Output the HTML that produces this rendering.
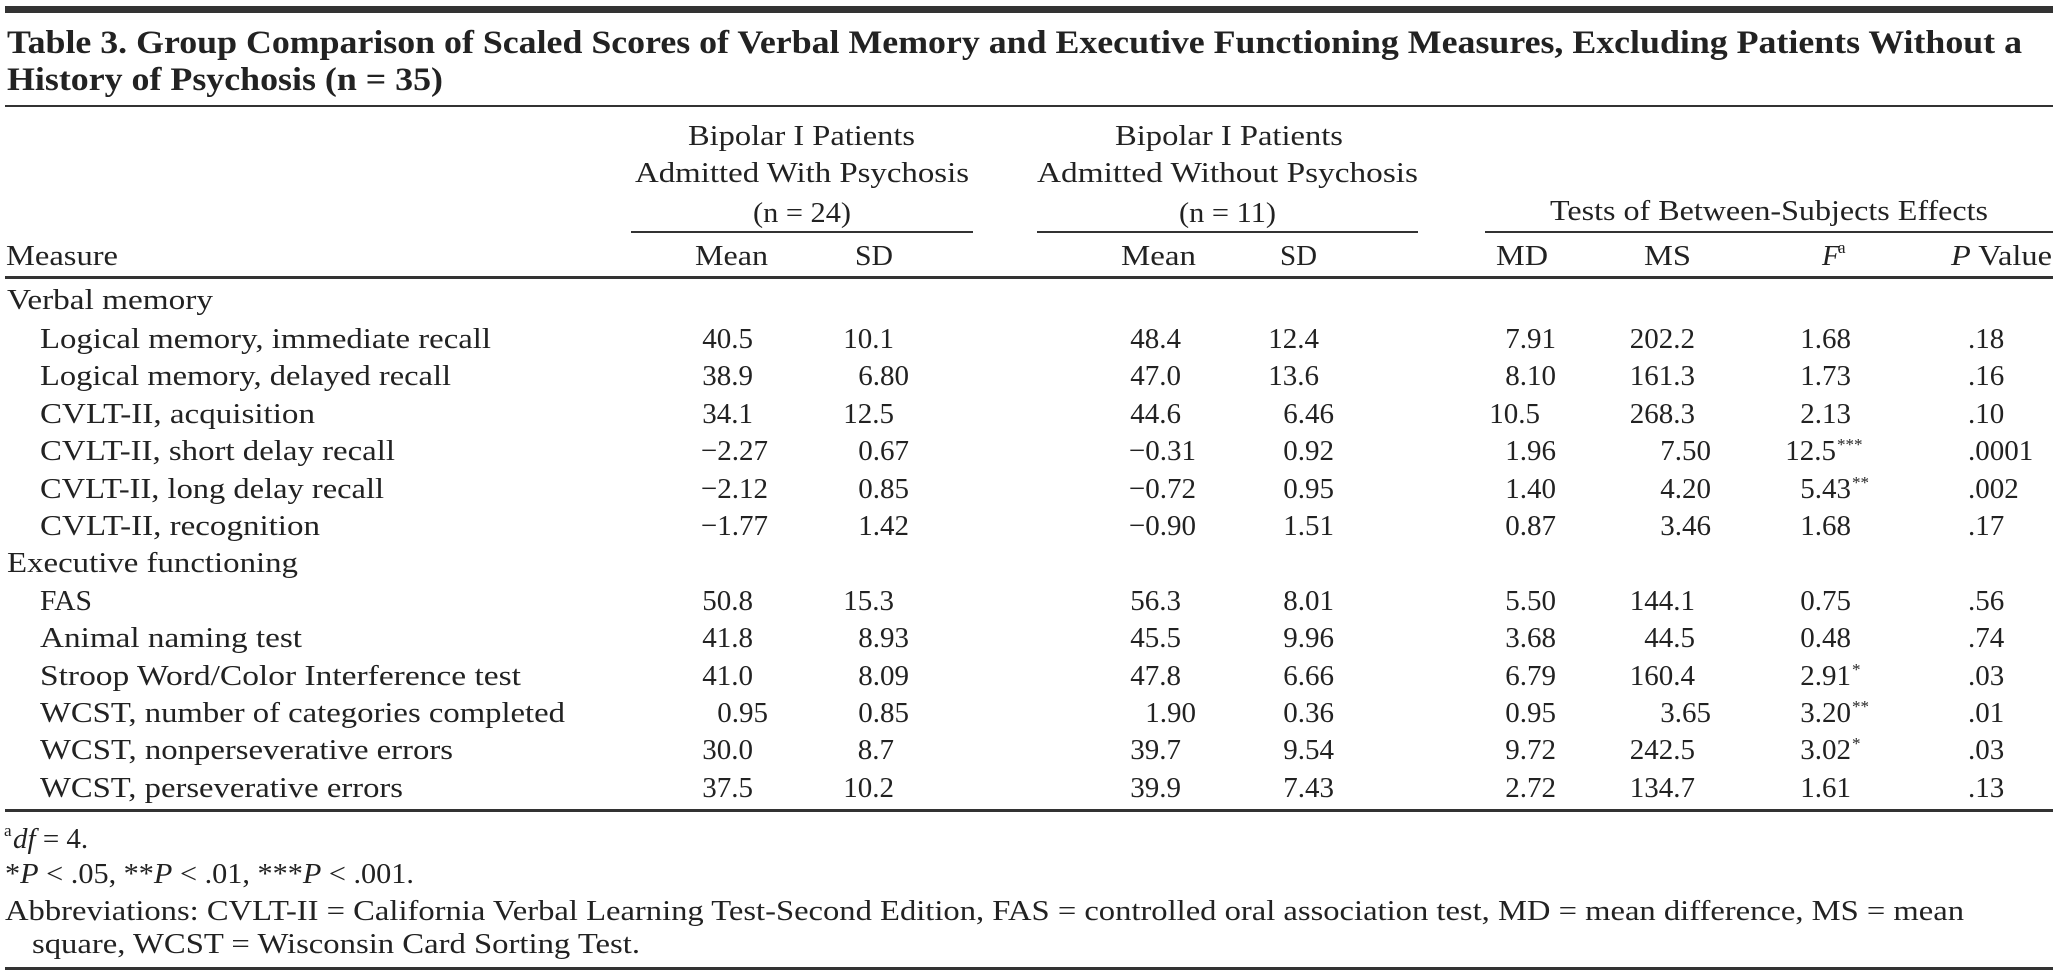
<!DOCTYPE html>
<html><head><meta charset="utf-8"><style>
html,body{margin:0;padding:0;background:#fff}
svg{display:block}
text{font-family:"Liberation Serif",serif;fill:#222;font-size:29px}
.t{font-size:33px;font-weight:bold}
.n{text-anchor:end}
.c{text-anchor:middle}
.s{font-size:17px}
</style></head><body>
<svg width="2053" height="976" viewBox="0 0 2053 976" xmlns="http://www.w3.org/2000/svg">
<rect x="5" y="6" width="2048" height="7" fill="#333"/>
<text class="t" x="7" y="53" textLength="2015" lengthAdjust="spacingAndGlyphs">Table 3. Group Comparison of Scaled Scores of Verbal Memory and Executive Functioning Measures, Excluding Patients Without a</text>
<text class="t" x="7" y="90" textLength="436" lengthAdjust="spacingAndGlyphs">History of Psychosis (n = 35)</text>
<rect x="5" y="105" width="2048" height="2" fill="#333"/>

<text x="688" y="145" textLength="227" lengthAdjust="spacingAndGlyphs">Bipolar I Patients</text>
<text x="635" y="182" textLength="334" lengthAdjust="spacingAndGlyphs">Admitted With Psychosis</text>
<text x="753" y="222" textLength="98" lengthAdjust="spacingAndGlyphs">(n = 24)</text>
<text x="1115" y="145" textLength="228" lengthAdjust="spacingAndGlyphs">Bipolar I Patients</text>
<text x="1037" y="182" textLength="381" lengthAdjust="spacingAndGlyphs">Admitted Without Psychosis</text>
<text x="1179" y="222" textLength="97" lengthAdjust="spacingAndGlyphs">(n = 11)</text>
<text x="1550" y="220" textLength="438" lengthAdjust="spacingAndGlyphs">Tests of Between-Subjects Effects</text>
<rect x="631" y="231" width="342" height="2" fill="#333"/>
<rect x="1037" y="231" width="381" height="2" fill="#333"/>
<rect x="1485" y="231" width="568" height="2" fill="#333"/>

<text x="6" y="265" textLength="112" lengthAdjust="spacingAndGlyphs">Measure</text>
<text x="695" y="265" textLength="73" lengthAdjust="spacingAndGlyphs">Mean</text>
<text x="855" y="265" textLength="38" lengthAdjust="spacingAndGlyphs">SD</text>
<text x="1121" y="265" textLength="75" lengthAdjust="spacingAndGlyphs">Mean</text>
<text x="1280" y="265" textLength="37" lengthAdjust="spacingAndGlyphs">SD</text>
<text x="1496" y="265" textLength="52" lengthAdjust="spacingAndGlyphs">MD</text>
<text x="1644" y="265" textLength="47" lengthAdjust="spacingAndGlyphs">MS</text>
<text x="1822" y="265" font-style="italic">F</text><text x="1838" y="253" class="s">a</text>
<text x="1951" y="265" textLength="101" lengthAdjust="spacingAndGlyphs"><tspan font-style="italic">P</tspan> Value</text>
<rect x="5" y="276" width="2048" height="3" fill="#333"/>

<text x="7" y="309" textLength="206" lengthAdjust="spacingAndGlyphs">Verbal memory</text>
<text x="40" y="348" textLength="451" lengthAdjust="spacingAndGlyphs">Logical memory, immediate recall</text>
<text x="40" y="385" textLength="411" lengthAdjust="spacingAndGlyphs">Logical memory, delayed recall</text>
<text x="40" y="423" textLength="275" lengthAdjust="spacingAndGlyphs">CVLT-II, acquisition</text>
<text x="40" y="460" textLength="355" lengthAdjust="spacingAndGlyphs">CVLT-II, short delay recall</text>
<text x="40" y="498" textLength="344" lengthAdjust="spacingAndGlyphs">CVLT-II, long delay recall</text>
<text x="40" y="535" textLength="280" lengthAdjust="spacingAndGlyphs">CVLT-II, recognition</text>
<text x="7" y="572" textLength="291" lengthAdjust="spacingAndGlyphs">Executive functioning</text>
<text x="40" y="610" textLength="52" lengthAdjust="spacingAndGlyphs">FAS</text>
<text x="40" y="647" textLength="262" lengthAdjust="spacingAndGlyphs">Animal naming test</text>
<text x="40" y="685" textLength="481" lengthAdjust="spacingAndGlyphs">Stroop Word/Color Interference test</text>
<text x="40" y="722" textLength="525" lengthAdjust="spacingAndGlyphs">WCST, number of categories completed</text>
<text x="40" y="759" textLength="413" lengthAdjust="spacingAndGlyphs">WCST, nonperseverative errors</text>
<text x="40" y="797" textLength="363" lengthAdjust="spacingAndGlyphs">WCST, perseverative errors</text>

<text class="n" x="753" y="348">40.5</text><text class="n" x="894" y="348">10.1</text><text class="n" x="1181" y="348">48.4</text><text class="n" x="1319" y="348">12.4</text><text class="n" x="1556" y="348">7.91</text><text class="n" x="1695" y="348">202.2</text><text class="n" x="1851" y="348">1.68</text><text x="1968" y="348">.18</text>
<text class="n" x="753" y="385">38.9</text><text class="n" x="909" y="385">6.80</text><text class="n" x="1181" y="385">47.0</text><text class="n" x="1319" y="385">13.6</text><text class="n" x="1556" y="385">8.10</text><text class="n" x="1695" y="385">161.3</text><text class="n" x="1851" y="385">1.73</text><text x="1968" y="385">.16</text>
<text class="n" x="753" y="423">34.1</text><text class="n" x="894" y="423">12.5</text><text class="n" x="1181" y="423">44.6</text><text class="n" x="1334" y="423">6.46</text><text class="n" x="1540" y="423">10.5</text><text class="n" x="1695" y="423">268.3</text><text class="n" x="1851" y="423">2.13</text><text x="1968" y="423">.10</text>
<text class="n" x="768" y="460">−2.27</text><text class="n" x="909" y="460">0.67</text><text class="n" x="1196" y="460">−0.31</text><text class="n" x="1334" y="460">0.92</text><text class="n" x="1556" y="460">1.96</text><text class="n" x="1711" y="460">7.50</text><text class="n" x="1836" y="460">12.5</text><text x="1837" y="450" class="s">***</text><text x="1968" y="460">.0001</text>
<text class="n" x="768" y="498">−2.12</text><text class="n" x="909" y="498">0.85</text><text class="n" x="1196" y="498">−0.72</text><text class="n" x="1334" y="498">0.95</text><text class="n" x="1556" y="498">1.40</text><text class="n" x="1711" y="498">4.20</text><text class="n" x="1851" y="498">5.43</text><text x="1852" y="488" class="s">**</text><text x="1968" y="498">.002</text>
<text class="n" x="768" y="535">−1.77</text><text class="n" x="909" y="535">1.42</text><text class="n" x="1196" y="535">−0.90</text><text class="n" x="1334" y="535">1.51</text><text class="n" x="1556" y="535">0.87</text><text class="n" x="1711" y="535">3.46</text><text class="n" x="1851" y="535">1.68</text><text x="1968" y="535">.17</text>
<text class="n" x="753" y="610">50.8</text><text class="n" x="894" y="610">15.3</text><text class="n" x="1181" y="610">56.3</text><text class="n" x="1334" y="610">8.01</text><text class="n" x="1556" y="610">5.50</text><text class="n" x="1695" y="610">144.1</text><text class="n" x="1851" y="610">0.75</text><text x="1968" y="610">.56</text>
<text class="n" x="753" y="647">41.8</text><text class="n" x="909" y="647">8.93</text><text class="n" x="1181" y="647">45.5</text><text class="n" x="1334" y="647">9.96</text><text class="n" x="1556" y="647">3.68</text><text class="n" x="1695" y="647">44.5</text><text class="n" x="1851" y="647">0.48</text><text x="1968" y="647">.74</text>
<text class="n" x="753" y="685">41.0</text><text class="n" x="909" y="685">8.09</text><text class="n" x="1181" y="685">47.8</text><text class="n" x="1334" y="685">6.66</text><text class="n" x="1556" y="685">6.79</text><text class="n" x="1695" y="685">160.4</text><text class="n" x="1851" y="685">2.91</text><text x="1852" y="675" class="s">*</text><text x="1968" y="685">.03</text>
<text class="n" x="768" y="722">0.95</text><text class="n" x="909" y="722">0.85</text><text class="n" x="1196" y="722">1.90</text><text class="n" x="1334" y="722">0.36</text><text class="n" x="1556" y="722">0.95</text><text class="n" x="1711" y="722">3.65</text><text class="n" x="1851" y="722">3.20</text><text x="1852" y="712" class="s">**</text><text x="1968" y="722">.01</text>
<text class="n" x="753" y="759">30.0</text><text class="n" x="894" y="759">8.7</text><text class="n" x="1181" y="759">39.7</text><text class="n" x="1334" y="759">9.54</text><text class="n" x="1556" y="759">9.72</text><text class="n" x="1695" y="759">242.5</text><text class="n" x="1851" y="759">3.02</text><text x="1852" y="749" class="s">*</text><text x="1968" y="759">.03</text>
<text class="n" x="753" y="797">37.5</text><text class="n" x="894" y="797">10.2</text><text class="n" x="1181" y="797">39.9</text><text class="n" x="1334" y="797">7.43</text><text class="n" x="1556" y="797">2.72</text><text class="n" x="1695" y="797">134.7</text><text class="n" x="1851" y="797">1.61</text><text x="1968" y="797">.13</text>

<rect x="5" y="809" width="2048" height="3" fill="#333"/>
<text x="4" y="836" class="s">a</text><text x="13" y="848"><tspan font-style="italic">df</tspan> = 4.</text>
<text x="5" y="883" textLength="409" lengthAdjust="spacingAndGlyphs">*<tspan font-style="italic">P</tspan> &lt; .05, **<tspan font-style="italic">P</tspan> &lt; .01, ***<tspan font-style="italic">P</tspan> &lt; .001.</text>
<text x="5" y="920" textLength="1959" lengthAdjust="spacingAndGlyphs">Abbreviations: CVLT-II = California Verbal Learning Test-Second Edition, FAS = controlled oral association test, MD = mean difference, MS = mean</text>
<text x="32" y="953" textLength="608" lengthAdjust="spacingAndGlyphs">square, WCST = Wisconsin Card Sorting Test.</text>
<rect x="5" y="967" width="2048" height="3" fill="#333"/>
</svg>
</body></html>
